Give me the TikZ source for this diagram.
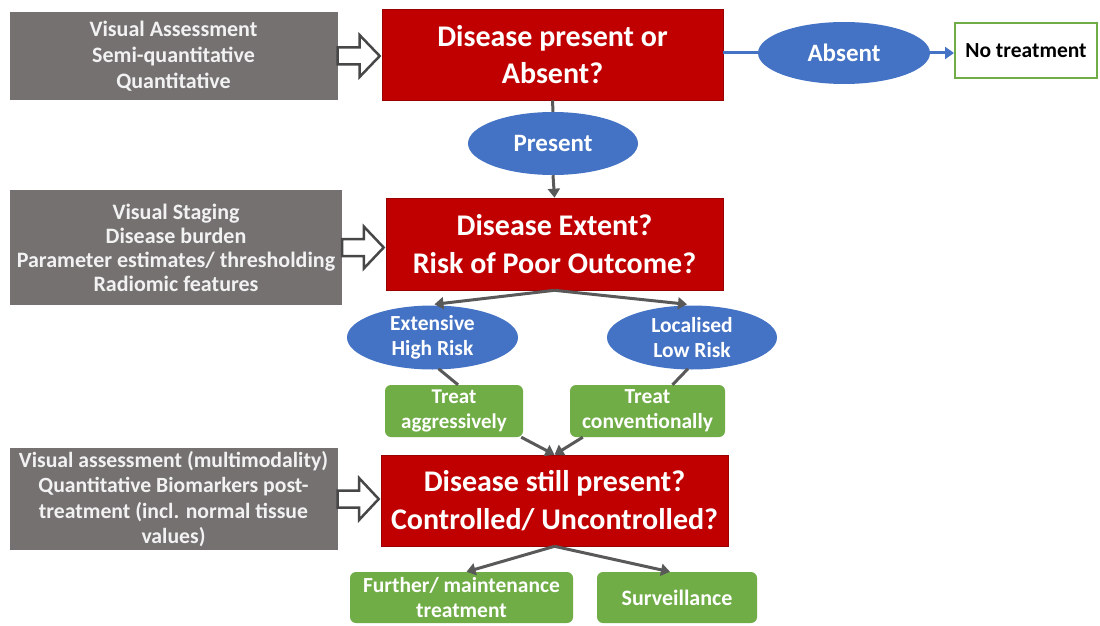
\documentclass[tikz,border=0pt]{standalone}
\usepackage{fontspec}
\setmainfont{Carlito}
\usetikzlibrary{shapes.geometric,calc,arrows.meta}
\definecolor{redbox}{HTML}{C00000}
\definecolor{graybox}{HTML}{767171}
\definecolor{blueell}{HTML}{4472C4}
\definecolor{greenbox}{HTML}{70AD47}
\definecolor{darkline}{HTML}{595959}
\tikzset{
  redq/.style={fill=redbox, draw=redbox!80!black, line width=0.6pt, text=white, align=center, inner sep=0pt,
     font=\bfseries\fontsize{30}{37.5}\selectfont},
  grayin/.style={fill=graybox, draw=none, text=white!95!black, align=center, inner sep=0pt,
     font=\bfseries\fontsize{22}{26}\selectfont},
  bluell/.style={ellipse, fill=blueell, draw=none, text=white, align=center, inner sep=0pt,
     font=\bfseries\fontsize{25}{30}\selectfont},
  greenact/.style={rounded corners=6pt, fill=greenbox, draw=none, text=white, align=center, inner sep=0pt,
     font=\bfseries\fontsize{21}{25}\selectfont},
  conn/.style={draw=darkline, line width=3pt},
  arr/.style={conn, -{Triangle[length=9pt,width=12pt]}},
  bconn/.style={draw=blueell, line width=3pt},
  barr/.style={bconn, -{Triangle[length=9pt,width=12pt]}},
  hollow/.style={draw=darkline!80!black, fill=white, line width=2.5pt, line join=miter},
}
\newcommand{\hollowarrow}[2]{%
  \draw[hollow] let \p1=(#1.east), \p2=(#2.west), \n1={\x2-\x1-2pt} in
    (\x1,\y1-8.5pt) -- ({\x1+0.52*\n1},\y1-8.5pt) -- ({\x1+0.52*\n1},\y1-21pt) -- ({\x1+\n1},\y1)
    -- ({\x1+0.52*\n1},\y1+21pt) -- ({\x1+0.52*\n1},\y1+8.5pt) -- (\x1,\y1+8.5pt) -- cycle;}
\begin{document}
\begin{tikzpicture}[x=1pt,y=-1pt]
\useasboundingbox (0,0) rectangle (1100,626);
\fill[white] (0,0) rectangle (1100,626);

% row 1
\node[grayin, minimum width=328pt, minimum height=88pt] (g1) at (173.5,56) {Visual Assessment\\Semi-quantitative\\Quantitative};
\node[redq, minimum width=341pt, minimum height=91pt] (r1) at (552.5,54.5) {Disease present or\\Absent?};
\node[bluell, minimum width=172pt, minimum height=62pt] (absent) at (844,53) {Absent};
\node[draw=greenbox, line width=2pt, fill=white, inner sep=0pt, minimum width=142pt, minimum height=55pt,
      font=\bfseries\fontsize{21.5}{25}\selectfont] (notr) at (1026,50.5) {No treatment};
\node[bluell, minimum width=170pt, minimum height=63pt] (present) at (553,143.5) {Present};

% row 2
\node[grayin, minimum width=332pt, minimum height=115pt, font=\bfseries\fontsize{22}{24}\selectfont] (g2) at (176,247.5) {Visual Staging\\Disease burden\\Parameter estimates/ thresholding\\Radiomic features};
\node[redq, minimum width=337pt, minimum height=92pt] (r2) at (554.5,244) {Disease Extent?\\Risk of Poor Outcome?};
\node[bluell, minimum width=171pt, minimum height=64pt, font=\bfseries\fontsize{21.5}{25}\selectfont] (ext) at (432.5,337.5) {Extensive\\High Risk};
\node[bluell, minimum width=170pt, minimum height=64pt, font=\bfseries\fontsize{21.5}{25}\selectfont] (loc) at (692,337.5) {Localised\\Low Risk};
\node[greenact, minimum width=138pt, minimum height=52pt] (ta) at (454,411) {Treat\\aggressively};
\node[greenact, minimum width=155pt, minimum height=52pt, font=\bfseries\fontsize{21.5}{25}\selectfont] (tc) at (647.5,411) {Treat\\conventionally};

% row 3
\node[grayin, minimum width=328pt, minimum height=102pt, font=\bfseries\fontsize{21.7}{25.5}\selectfont] (g3) at (173.5,499) {Visual assessment (multimodality)\\Quantitative Biomarkers post-\\treatment (incl. normal tissue\\values)};
\node[redq, minimum width=347pt, minimum height=91pt] (r3) at (554.5,500.5) {Disease still present?\\Controlled/ Uncontrolled?};
\node[greenact, minimum width=223pt, minimum height=51pt, font=\bfseries\fontsize{21.5}{25}\selectfont] (fm) at (461.5,597.5) {Further/ maintenance\\treatment};
\node[greenact, minimum width=160pt, minimum height=51pt, font=\bfseries\fontsize{22}{25}\selectfont] (sv) at (677,597.5) {Surveillance};

% hollow input arrows
\hollowarrow{g1}{r1}
\hollowarrow{g2}{r2}
\hollowarrow{g3}{r3}

% connectors
\draw[bconn] (absent.west -| r1.east) -- (absent.west);
\draw[barr] (absent.east) -- (absent.east -| notr.west);
\draw[conn] (r1.south) -- (present.north);
\draw[arr] (present.south) -- (r2.north);
\draw[arr] (r2.south) -- ($(ext.north)+(2,-1)$);
\draw[arr] (r2.south) -- ($(loc.north)+(-5,-1)$);
\draw[conn] ($(ext.south)+(6,-1)$) -- ($(ta.north)+(4,0)$);
\draw[conn] ($(loc.south)+(-4,-1)$) -- ($(tc.north)+(25,0)$);
\draw[arr] ($(ta.south east)+(-2,0)$) -- (r3.north);
\draw[arr] ($(tc.south west)+(13,0)$) -- (r3.north);
\draw[arr] (r3.south) -- ($(fm.north)+(5,0)$);
\draw[arr] (r3.south) -- ($(sv.north)+(-7,0)$);
\end{tikzpicture}
\end{document}
